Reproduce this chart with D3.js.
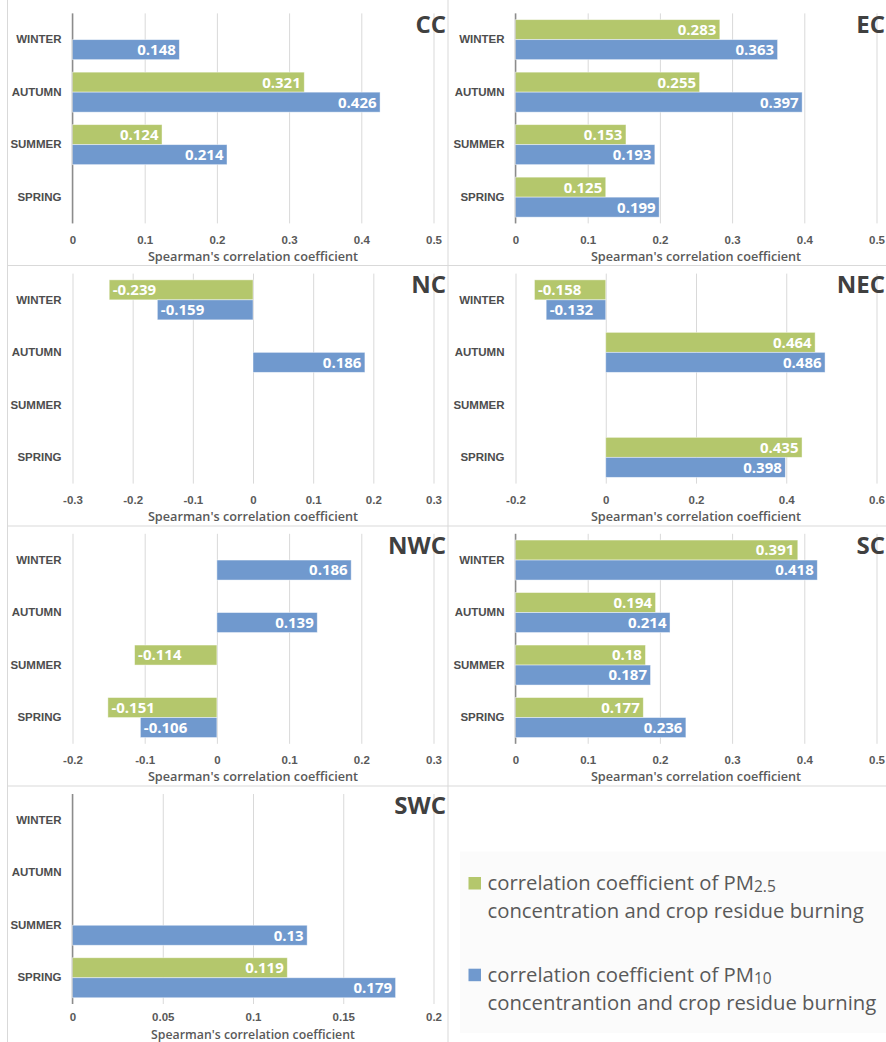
<!DOCTYPE html>
<html>
<head>
<meta charset="utf-8">
<script src="https://cdn.jsdelivr.net/npm/d3@7/dist/d3.min.js"></script>
<style>
  html, body { margin: 0; padding: 0; background: #fff; }
  svg { display: block; font-family: "Open Sans", "DejaVu Sans", sans-serif; }
</style>
</head>
<body>
<svg id="chart" width="886" height="1042"></svg>
<script>
// Seasons, listed top to bottom in every panel
const seasons = ["WINTER", "AUTUMN", "SUMMER", "SPRING"];

// Spearman's correlation coefficients per region (null = not significant / not shown)
const regions = ["CC", "EC", "NC", "NEC", "NWC", "SC", "SWC"];
const pm25 = {
  CC:  [null, 0.321, 0.124, null],
  EC:  [0.283, 0.255, 0.153, 0.125],
  NC:  [-0.239, null, null, null],
  NEC: [-0.158, 0.464, null, 0.435],
  NWC: [null, null, -0.114, -0.151],
  SC:  [0.391, 0.194, 0.18, 0.177],
  SWC: [null, null, null, 0.119]
};
const pm10 = {
  CC:  [0.148, 0.426, 0.214, null],
  EC:  [0.363, 0.397, 0.193, 0.199],
  NC:  [-0.159, 0.186, null, null],
  NEC: [-0.132, 0.486, null, 0.398],
  NWC: [0.186, 0.139, null, -0.106],
  SC:  [0.418, 0.214, 0.187, 0.236],
  SWC: [null, null, 0.13, 0.179]
};

// Value-axis tick labels per region
const ticks = {
  CC:  ["0", "0.1", "0.2", "0.3", "0.4", "0.5"],
  EC:  ["0", "0.1", "0.2", "0.3", "0.4", "0.5"],
  NC:  ["-0.3", "-0.2", "-0.1", "0", "0.1", "0.2", "0.3"],
  NEC: ["-0.2", "0", "0.2", "0.4", "0.6"],
  NWC: ["-0.2", "-0.1", "0", "0.1", "0.2", "0.3"],
  SC:  ["0", "0.1", "0.2", "0.3", "0.4", "0.5"],
  SWC: ["0", "0.05", "0.1", "0.15", "0.2"]
};

const seriesNames = ["pm25", "pm10"];
const seriesColors = { pm25: "#b4c76c", pm10: "#7099ce" };
const axisTitle = "Spearman's correlation coefficient";

const svg = d3.select("#chart");
const W = 886, H = 1042;
const frameColor = "#d9d9d9";

// panel grid: two columns, four rows
const colX = [0, 443];
const rowStep = 260.2;
const plot = { left: 72.5, width: 361, top: 13.4, height: 210 };

// panel frames
const frames = svg.append("g").attr("stroke", frameColor).attr("stroke-width", 1);
[265.5, 526, 786].forEach(y => frames.append("line").attr("x1", 7.5).attr("x2", W).attr("y1", y).attr("y2", y));
[7.5, 448].forEach(x => frames.append("line").attr("x1", x).attr("x2", x).attr("y1", 0).attr("y2", H));

regions.forEach((name, i) => {
  const col = i % 2;
  const row = Math.floor(i / 2);
  const lastRow = row === 3;
  const ox = colX[col];
  const oy = row * rowStep;
  const g = svg.append("g").attr("transform", `translate(${ox},${oy})`);

  const tv = ticks[name].map(Number);
  const x = d3.scaleLinear()
    .domain([d3.min(tv), d3.max(tv)])
    .range([plot.left, plot.left + plot.width]);

  const y = d3.scaleBand()
    .domain(seasons)
    .range([plot.top, plot.top + plot.height])
    .paddingInner(0.238)
    .paddingOuter(0.119);

  const ySub = d3.scaleBand().domain(seriesNames).range([0, y.bandwidth()]);

  // gridlines + tick labels (bottom row packed a little tighter to fit the page)
  const xAxis = d3.axisBottom(x)
    .tickValues(tv)
    .tickSize(-plot.height)
    .tickPadding(lastRow ? 9 : 12.3)
    .tickFormat((d, k) => ticks[name][k]);
  const ax = g.append("g")
    .attr("transform", `translate(0,${plot.top + plot.height})`)
    .call(xAxis);
  ax.select(".domain").remove();
  ax.selectAll(".tick line").attr("stroke", frameColor).attr("stroke-width", 1);
  ax.selectAll(".tick text")
    .attr("fill", "#595959")
    .style("font-size", "11.5px")
    .style("font-weight", 600);

  // category axis line where the value axis starts at zero
  if (x.domain()[0] === 0) {
    g.append("line")
      .attr("x1", x(0)).attr("x2", x(0))
      .attr("y1", plot.top).attr("y2", plot.top + plot.height)
      .attr("stroke", "#8c8c8c").attr("stroke-width", 1.5);
  }

  // season labels
  const yAxis = d3.axisLeft(y).tickSize(0).tickPadding(0);
  const ay = g.append("g")
    .attr("transform", `translate(${plot.left - 11},0)`)
    .call(yAxis);
  ay.select(".domain").remove();
  ay.selectAll(".tick text")
    .attr("fill", "#4d4d4d")
    .style("font-size", "11.5px")
    .style("font-weight", 600);

  // bars
  const rows = [];
  seasons.forEach((s, k) => {
    seriesNames.forEach(sn => {
      const v = (sn === "pm25" ? pm25 : pm10)[name][k];
      if (v !== null) rows.push({ season: s, series: sn, value: v });
    });
  });

  const bars = g.append("g").selectAll("g").data(rows).join("g");
  bars.append("rect")
    .attr("x", d => Math.min(x(0), x(d.value)))
    .attr("width", d => Math.abs(x(d.value) - x(0)))
    .attr("y", d => y(d.season) + ySub(d.series))
    .attr("height", ySub.bandwidth())
    .attr("fill", d => seriesColors[d.series])
    .attr("stroke", "rgba(255,255,255,0.55)")
    .attr("stroke-width", 0.8);

  bars.append("text")
    .attr("x", d => d.value >= 0 ? x(d.value) - 3.5 : x(d.value) + 3.5)
    .attr("y", d => y(d.season) + ySub(d.series) + ySub.bandwidth() / 2)
    .attr("dy", "0.36em")
    .attr("text-anchor", d => d.value >= 0 ? "end" : "start")
    .attr("fill", "#fff")
    .style("font-size", "15px")
    .style("font-weight", 700)
    .text(d => String(d.value));

  // axis title
  g.append("text")
    .attr("x", plot.left + plot.width / 2)
    .attr("y", lastRow ? 258 : 261)
    .attr("text-anchor", "middle")
    .attr("fill", "#595959")
    .style("font-size", lastRow ? "12.3px" : "12.7px")
    .style("font-weight", 600)
    .text(axisTitle);

  // region name
  g.append("text")
    .attr("x", col === 0 ? 446 : W - ox - 1)
    .attr("y", 33.3)
    .attr("text-anchor", "end")
    .attr("fill", "#404040")
    .style("font-size", "24px")
    .style("font-weight", 700)
    .text(name);
});

// legend
const legendItems = [
  { series: "pm25", lines: [["correlation coefficient of PM", "2.5"], ["concentration and crop residue burning", ""]] },
  { series: "pm10", lines: [["correlation coefficient of PM", "10"], ["concentrantion and crop residue burning", ""]] }
];
const lg = svg.append("g");
lg.append("rect")
  .attr("x", 460).attr("y", 851.5).attr("width", 430).attr("height", 181.5)
  .attr("fill", "#fbfbfb");
legendItems.forEach((item, k) => {
  const base = 890 + k * 91.7;
  lg.append("rect")
    .attr("x", 468.5).attr("y", base - 13).attr("width", 12.5).attr("height", 12.5)
    .attr("fill", seriesColors[item.series]);
  item.lines.forEach((ln, j) => {
    const t = lg.append("text")
      .attr("x", 487.5)
      .attr("y", base + j * 28.3)
      .attr("fill", "#595959")
      .style("font-size", "20.3px");
    t.append("tspan").text(ln[0]);
    if (ln[1]) {
      t.append("tspan")
        .attr("dy", 2)
        .style("font-size", "15.5px")
        .text(ln[1]);
    }
  });
});
</script>
</body>
</html>
